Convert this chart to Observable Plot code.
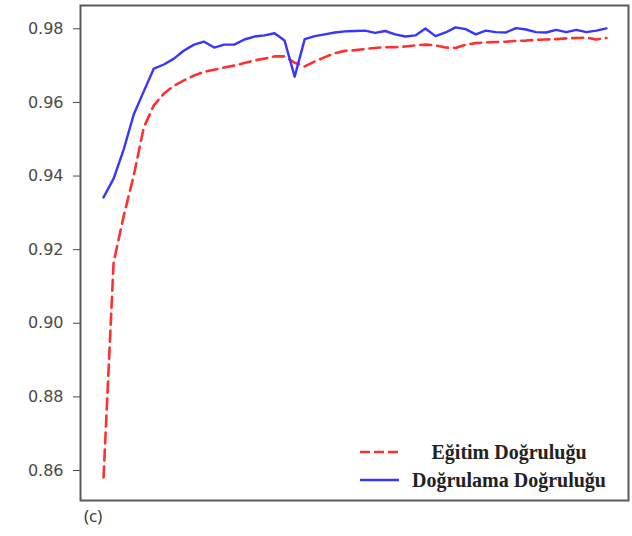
<!DOCTYPE html>
<html>
<head>
<meta charset="utf-8">
<script src="https://cdn.jsdelivr.net/npm/d3@7"></script>
<script src="https://cdn.jsdelivr.net/npm/@observablehq/plot@0.6"></script>
<style>
  body { margin: 0; background: #fff; }
  #wrap { position: relative; width: 632px; height: 536px; overflow: hidden; background: #fff; }
  #legend { position: absolute; left: 355px; top: 438px; width: 262px; font-family: "Liberation Serif", "Times New Roman", serif; font-size: 20px; font-weight: bold; color: #222; }
  .row { display: flex; align-items: center; height: 28px; }
  .row svg { flex: none; }
  .row span { flex: 1; text-align: center; white-space: nowrap; }
  #panel { position: absolute; left: 84px; top: 505px; font-family: "Open Sans", sans-serif; font-size: 17px; line-height: 22px; color: #333; }
</style>
</head>
<body>
<div id="wrap"></div>
<script>
// Epoch index (x), no x tick labels shown in the reference
const epochs = [1,2,3,4,5,6,7,8,9,10,11,12,13,14,15,16,17,18,19,20,21,22,23,24,25,26,27,28,29,30,31,32,33,34,35,36,37,38,39,40,41,42,43,44,45,46,47,48,49,50,51];

// Training accuracy (red dashed)
const trainAcc = [0.8581,0.9165,0.9291,0.9401,0.9532,0.9592,0.9624,0.9645,0.9660,0.9673,
  0.9683,0.9689,0.9695,0.9700,0.9707,0.9714,0.9719,0.9725,0.9725,0.9708,
  0.9698,0.9711,0.9723,0.9734,0.9740,0.9742,0.9745,0.9748,0.9750,0.9750,
  0.9752,0.9755,0.9757,0.9755,0.9749,0.9748,0.9757,0.9761,0.9763,0.9764,
  0.9765,0.9767,0.9768,0.9770,0.9771,0.9772,0.9774,0.9775,0.9776,0.9771,0.9775];

// Validation accuracy (blue solid)
const valAcc = [0.9342,0.9393,0.9472,0.9567,0.9630,0.9692,0.9703,0.9719,0.9741,0.9757,
  0.9765,0.9749,0.9757,0.9757,0.9771,0.9779,0.9782,0.9788,0.9768,0.9670,
  0.9772,0.9780,0.9785,0.9790,0.9793,0.9794,0.9795,0.9789,0.9794,0.9785,
  0.9779,0.9782,0.9801,0.9780,0.9790,0.9804,0.9799,0.9785,0.9795,0.9791,
  0.9790,0.9802,0.9798,0.9791,0.9790,0.9797,0.9791,0.9797,0.9791,0.9795,0.9801];

const yTicks = [0.86, 0.88, 0.90, 0.92, 0.94, 0.96, 0.98];
const seriesNames = ["Eğitim Doğruluğu", "Doğrulama Doğruluğu"];
const seriesColors = ["#ff3030", "#3636ff"];
const panelLabel = "(c)";

const trainRows = epochs.map((e, i) => ({ epoch: e, value: trainAcc[i] }));
const valRows = epochs.map((e, i) => ({ epoch: e, value: valAcc[i] }));

const chart = Plot.plot({
  width: 632,
  height: 536,
  marginLeft: 80,
  marginTop: 5,
  marginRight: 4,
  marginBottom: 36,
  x: { domain: [-1.29, 53.19], axis: null },
  y: {
    domain: [0.85185, 0.98633],
    ticks: yTicks,
    tickFormat: d3.format(".2f"),
    tickSize: 7,
    tickPadding: 10,
    label: null
  },
  style: { fontFamily: "DejaVu Sans, sans-serif", fontSize: "16px", color: "#4a4a4a", background: "#fff", overflow: "visible" },
  marks: [
    Plot.lineY(trainRows, { x: "epoch", y: "value", stroke: seriesColors[0], strokeWidth: 2.6, strokeDasharray: "11,6", curve: "linear" }),
    Plot.lineY(valRows, { x: "epoch", y: "value", stroke: seriesColors[1], strokeWidth: 2.4, curve: "linear" }),
    Plot.frame({ stroke: "#5a5a5a", strokeWidth: 2 })
  ]
});

const wrap = document.getElementById("wrap");
wrap.appendChild(chart);

// Legend
const legend = document.createElement("div");
legend.id = "legend";
seriesNames.forEach((name, i) => {
  const row = document.createElement("div");
  row.className = "row";
  const dash = i === 0 ? 'stroke-dasharray="10,4"' : "";
  row.innerHTML = `<svg width="46" height="10"><line x1="5" y1="5" x2="44" y2="5" stroke="${seriesColors[i]}" stroke-width="2.6" ${dash}/></svg><span>${name}</span>`;
  legend.appendChild(row);
});
wrap.appendChild(legend);

// Panel label
const panel = document.createElement("div");
panel.id = "panel";
panel.textContent = panelLabel;
wrap.appendChild(panel);
</script>
</body>
</html>
